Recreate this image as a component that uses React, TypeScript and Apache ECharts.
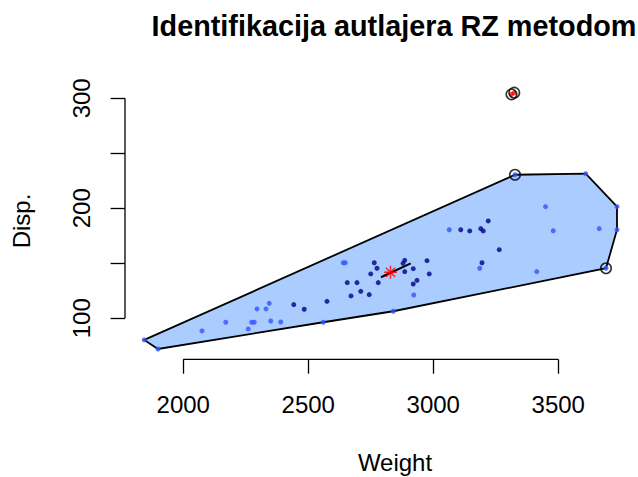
import React, { useEffect, useRef } from "react";
import * as echarts from "echarts";

// Bag (inner) points
const bagWeight = [2442, 2484, 2575, 2656, 2671, 2695, 2710, 2744, 2750, 2764, 2775, 2780, 2879, 2886, 2886, 2920, 2975, 2984, 2935, 2920, 3110, 3146, 3190, 3200, 3220, 3264, 3195];
const bagDisp = [112.4, 108.2, 115.4, 132.4, 120.3, 132.4, 124.5, 121.5, 140.3, 150.5, 145.5, 132.4, 150, 152.7, 142.4, 145.1, 152.4, 140.3, 134.5, 131.2, 180.5, 179.4, 181.5, 179.4, 188.5, 162.4, 150.5];

// Loop (outer) points
const loopWeight = [1844, 1899, 2075, 2170, 2260, 2274, 2284, 2295, 2331, 2344, 2350, 2390, 2560, 2640, 2648, 2840, 2922, 3064, 3186, 3327, 3414, 3449, 3480, 3610, 3664, 3691, 3735, 3735];
const loopDisp = [80.3, 72.1, 88.5, 96.4, 90.3, 96.4, 96.4, 108.5, 108.5, 113.6, 97.5, 96.6, 96.4, 150.5, 150.5, 106.4, 121.2, 180.5, 145.5, 230.5, 142.4, 201.5, 179.6, 231.5, 181.5, 145.5, 201.5, 180.5];

// Outliers
const outlierWeight = [3313, 3324];
const outlierDisp = [303.6, 305.1];

// Circled (identified) points
const circledWeight = [3313, 3324, 3327, 3691];
const circledDisp = [303.6, 305.1, 230.5, 145.5];

// Loop hull
const hullWeight = [1844, 3327, 3610, 3735, 3735, 3691, 2840, 2560, 1899];
const hullDisp = [80.3, 230.5, 231.5, 201.5, 180.5, 145.5, 106.4, 96.4, 72.1];

// Center (Tukey median) and segment
const centerWeight = [2829];
const centerDisp = [141.8];
const segmentWeight = [2791, 2910];
const segmentDisp = [137.3, 150];

// Ticks
const xTicks = [2000, 2500, 3000, 3500];
const yTicks = [100, 150, 200, 250, 300];
const yLabels = [100, 200, 300];

const X_MIN = 1767;
const X_MAX = 3927;
const Y_MIN = 62.7;
const Y_MAX = 314.3;

const FONT = "'Liberation Sans', Arial, Helvetica, sans-serif";

const zip = (a: number[], b: number[]) => a.map((v, i) => [v, b[i]]);

export default function App() {
  const ref = useRef<HTMLDivElement>(null);
  useEffect(() => {
    if (!ref.current) return;
    const chart = echarts.init(ref.current, undefined, { renderer: "svg" });
    const option: any = {
      animation: false,
      backgroundColor: "#ffffff",
      title: {
        text: "Identifikacija autlajera RZ metodom",
        left: 394,
        top: 11,
        textAlign: "center",
        padding: 0,
        textStyle: { fontSize: 28.8, fontWeight: "bold", color: "#000", fontFamily: FONT },
      },
      grid: { left: 125, right: -27, top: 82.6, bottom: 117.7, containLabel: false, outerBoundsMode: "none" },
      xAxis: {
        type: "value",
        min: X_MIN,
        max: X_MAX,
        axisLine: { show: false },
        splitLine: { show: false },
        axisTick: { show: true, customValues: xTicks, length: 14.4, lineStyle: { color: "#000", width: 1.3 } },
        axisLabel: {
          customValues: xTicks,
          formatter: (v: number) => String(v),
          margin: 33,
          fontSize: 24,
          color: "#000",
          fontFamily: FONT,
        },
        name: "Weight",
        nameLocation: "middle",
        nameGap: 91,
        nameTextStyle: { fontSize: 24, color: "#000", fontFamily: FONT },
      },
      yAxis: {
        type: "value",
        min: Y_MIN,
        max: Y_MAX,
        axisLine: { show: false },
        splitLine: { show: false },
        axisTick: { show: true, customValues: yTicks, length: 14.4, lineStyle: { color: "#000", width: 1.3 } },
        axisLabel: {
          customValues: yLabels,
          formatter: (v: number) => String(v),
          rotate: 90,
          margin: 32,
          fontSize: 24,
          color: "#000",
          fontFamily: FONT,
        },
        name: "Disp.",
        nameLocation: "middle",
        nameGap: 92,
        nameTextStyle: { fontSize: 24, color: "#000", fontFamily: FONT },
      },
      series: [
        {
          type: "custom",
          silent: true,
          clip: false,
          z: 1,
          data: [[hullWeight[0], hullDisp[0]]],
          renderItem: (_params: any, api: any) => {
            const pts = hullWeight.map((w, i) => api.coord([w, hullDisp[i]]));
            return {
              type: "polygon",
              shape: { points: pts },
              style: { fill: "#aaccff", stroke: "#000", lineWidth: 1.8 },
            };
          },
        },
        {
          type: "line",
          silent: true,
          clip: false,
          symbol: "none",
          z: 2,
          data: [[xTicks[0], Y_MIN], [xTicks[xTicks.length - 1], Y_MIN]],
          lineStyle: { color: "#000", width: 1.3 },
        },
        {
          type: "line",
          silent: true,
          clip: false,
          symbol: "none",
          z: 2,
          data: [[X_MIN, yTicks[0]], [X_MIN, yTicks[yTicks.length - 1]]],
          lineStyle: { color: "#000", width: 1.3 },
        },
        {
          type: "scatter",
          silent: true,
          z: 3,
          symbol: "circle",
          symbolSize: 5,
          data: zip(loopWeight, loopDisp),
          itemStyle: { color: "#3355ff" },
        },
        {
          type: "scatter",
          silent: true,
          z: 3,
          symbol: "circle",
          symbolSize: 5,
          data: zip(bagWeight, bagDisp),
          itemStyle: { color: "#000088" },
        },
        {
          type: "scatter",
          silent: true,
          z: 3,
          symbol: "circle",
          symbolSize: 5,
          data: zip(outlierWeight, outlierDisp),
          itemStyle: { color: "#ff0000" },
        },
        {
          type: "line",
          silent: true,
          clip: false,
          symbol: "none",
          z: 4,
          data: zip(segmentWeight, segmentDisp),
          lineStyle: { color: "#000", width: 2 },
        },
        {
          type: "scatter",
          silent: true,
          z: 5,
          symbol: "path://M6 0L6 12M0 6L12 6M1.76 1.76L10.24 10.24M1.76 10.24L10.24 1.76",
          symbolSize: 13,
          data: zip(centerWeight, centerDisp),
          itemStyle: { color: "none", borderColor: "#ff0000", borderWidth: 1.5 },
        },
        {
          type: "scatter",
          silent: true,
          z: 5,
          symbol: "circle",
          symbolSize: 10.5,
          data: zip(circledWeight, circledDisp),
          itemStyle: { color: "none", borderColor: "#000", borderWidth: 1.6 },
        },
      ],
    };
    chart.setOption(option);
    return () => chart.dispose();
  }, []);
  return (
    <div
      ref={ref}
      style={{ position: "fixed", left: 0, top: 0, width: 638, height: 477, background: "#fff" }}
    />
  );
}
